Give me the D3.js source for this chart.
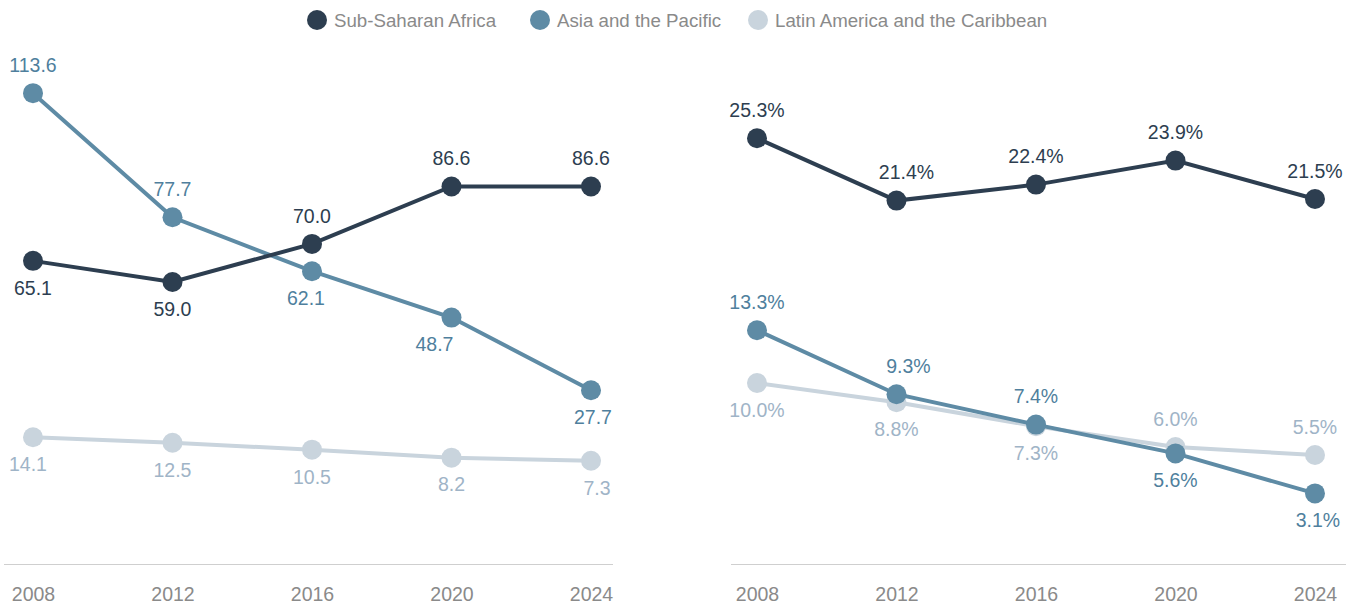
<!DOCTYPE html>
<html>
<head>
<meta charset="utf-8">
<script src="https://cdn.jsdelivr.net/npm/d3@7"></script>
<style>
  body { margin: 0; background: #fff; }
  svg { display: block; font-family: "Liberation Sans", Arial, Helvetica, sans-serif; }
</style>
</head>
<body>
<div id="chart"></div>
<script>
const years = [2008, 2012, 2016, 2020, 2024];
const regions = ['Sub-Saharan Africa', 'Asia and the Pacific', 'Latin America and the Caribbean'];

// left panel (absolute values)
const leftSSA = [65.1, 59.0, 70.0, 86.6, 86.6];
const leftAsia = [113.6, 77.7, 62.1, 48.7, 27.7];
const leftLatam = [14.1, 12.5, 10.5, 8.2, 7.3];

// right panel (shares, %)
const rightSSA = [25.3, 21.4, 22.4, 23.9, 21.5];
const rightAsia = [13.3, 9.3, 7.4, 5.6, 3.1];
const rightLatam = [10.0, 8.8, 7.3, 6.0, 5.5];

// label side per point: 'a' above, 'b' below
const leftSides = [
  ['b', 'b', 'a', 'a', 'a'],
  ['a', 'a', 'b', 'b', 'b'],
  ['b', 'b', 'b', 'b', 'b']
];
const rightSides = [
  ['a', 'a', 'a', 'a', 'a'],
  ['a', 'a', 'a', 'b', 'b'],
  ['b', 'b', 'b', 'a', 'a']
];

const colors = ['#2d3e50', '#5e8ba5', '#c9d4dd'];
const labelColors = ['#2d3e50', '#4f7f9d', '#9fb4c7'];

const width = 1356, height = 604;
const svg = d3.select('#chart').append('svg')
  .attr('width', width)
  .attr('height', height);

// legend
const legendX = [317, 540, 758];
const legend = svg.append('g');
regions.forEach((name, i) => {
  legend.append('circle')
    .attr('cx', legendX[i]).attr('cy', 20).attr('r', 10)
    .attr('fill', colors[i]);
  legend.append('text')
    .attr('x', legendX[i] + 17).attr('y', 20)
    .attr('dy', '0.35em')
    .attr('font-size', 18.7)
    .attr('fill', '#8a8a8a')
    .text(name);
});

const drawPanel = (opts) => {
  const { series, sides, xRange, lineRange, yDomain, yRange, fmt, nudges } = opts;
  const g = svg.append('g');

  const x = d3.scalePoint().domain(years).range(xRange);
  const y = d3.scaleLinear().domain(yDomain).range(yRange);

  // baseline
  g.append('line')
    .attr('x1', lineRange[0]).attr('x2', lineRange[1])
    .attr('y1', 564.5).attr('y2', 564.5)
    .attr('stroke', '#cfcfcf').attr('stroke-width', 1);

  const axis = d3.axisBottom(x).tickSize(0).tickPadding(0);
  const ax = g.append('g').attr('transform', 'translate(0,587)').call(axis);
  ax.select('.domain').remove();
  ax.selectAll('text')
    .attr('font-size', 19.5)
    .attr('fill', '#8a8a8a')
    .attr('font-family', '"Liberation Sans", Arial, sans-serif');

  const line = d3.line()
    .x((d, i) => x(years[i]))
    .y(d => y(d));

  // draw from last to first so Sub-Saharan Africa is on top
  [2, 1, 0].forEach(s => {
    const vals = series[s];
    g.append('path')
      .attr('d', line(vals))
      .attr('fill', 'none')
      .attr('stroke', colors[s])
      .attr('stroke-width', 4);
    g.selectAll(null)
      .data(vals)
      .join('circle')
      .attr('cx', (d, i) => x(years[i]))
      .attr('cy', d => y(d))
      .attr('r', 10)
      .attr('fill', colors[s]);
  });

  [2, 1, 0].forEach(s => {
    g.selectAll(null)
      .data(series[s])
      .join('text')
      .attr('x', (d, i) => x(years[i]) + ((nudges[s] && nudges[s][i]) || 0))
      .attr('y', (d, i) => y(d) + (sides[s][i] === 'a' ? -28 : 27))
      .attr('dy', '0.35em')
      .attr('text-anchor', 'middle')
      .attr('font-size', 19.5)
      .attr('fill', labelColors[s])
      .text(fmt);
  });
};

drawPanel({
  series: [leftSSA, leftAsia, leftLatam],
  sides: leftSides,
  xRange: [33, 591],
  lineRange: [4, 613],
  yDomain: [0, 120],
  yRange: [486, 71],
  fmt: d => d.toFixed(1),
  nudges: [[0, 0, 0, 0, 0], [0, 0, -6, -17, 2], [-5, 0, 0, 0, 6]]
});

drawPanel({
  series: [rightSSA, rightAsia, rightLatam],
  sides: rightSides,
  xRange: [757, 1315],
  lineRange: [731, 1346],
  yDomain: [0, 30],
  yRange: [543, 63],
  fmt: d => d.toFixed(1) + '%',
  nudges: [[0, 10, 0, 0, 0], [0, 12, 0, 0, 3], [0, 0, 0, 0, 0]]
});
</script>
</body>
</html>
